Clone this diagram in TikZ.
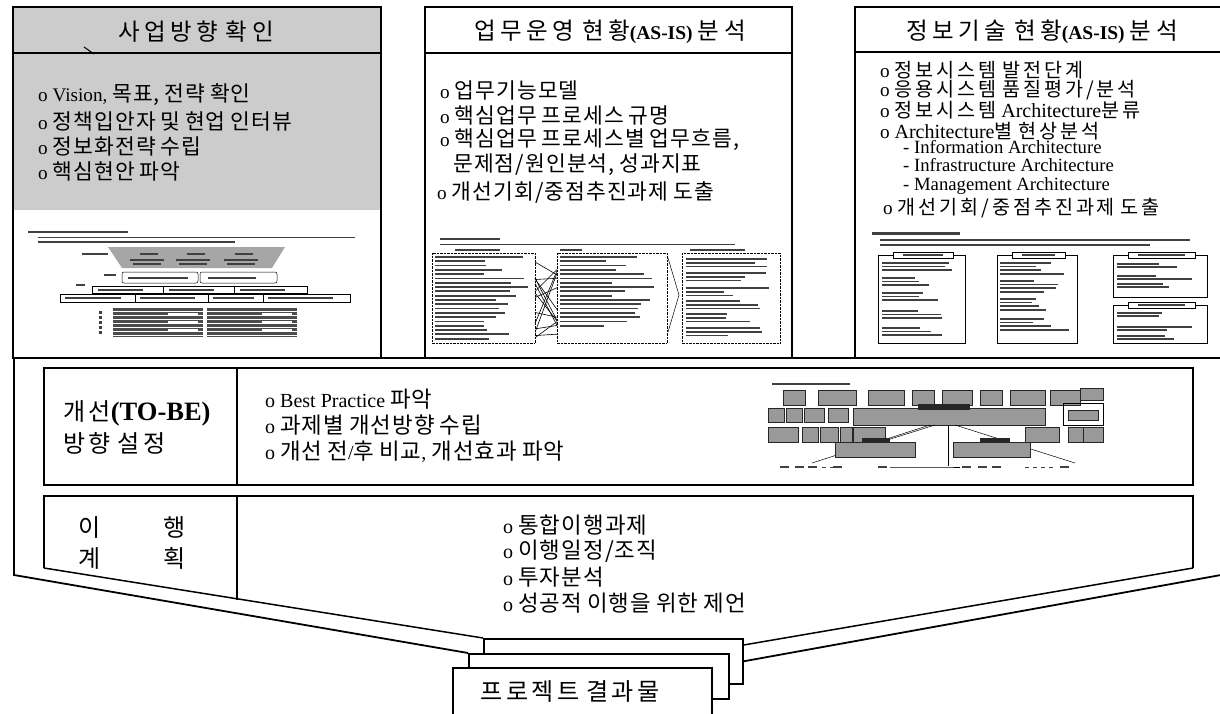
\documentclass[tikz,border=0pt]{standalone}
\usepackage{fontspec}
\setmainfont{Liberation Serif}
\newfontfamily\kr[Scale=1.12,LetterSpace=5,WordSpace=0.8]{Noto Sans CJK KR}
\newcommand\kor[1]{{\kr #1}}
\newcommand\korh[1]{{\kr\addfontfeature{LetterSpace=19}#1}}
\newcommand\korr[1]{{\kr\addfontfeature{LetterSpace=14}#1}}
\newcommand\korc[1]{{\fontsize{17.5}{19}\selectfont\kr\addfontfeature{LetterSpace=15}#1}}
\newcommand\tlines[5]{%
  \foreach \i in {1,...,#4}{%
    \pgfmathsetmacro\ww{#3*(0.45+0.55*rnd)}%
    \fill[tk] (#1,{#2+(\i-1)*#5}) rectangle ++(\ww,1.8);}}
\begin{document}
\begin{tikzpicture}[x=1pt,y=-1pt,
  box/.style={draw, line width=1.5pt},
  frame/.style={draw, line width=1.8pt},
  stk/.style={draw, line width=1.6pt, fill=white, anchor=north west, inner sep=0pt},
  txt/.style={anchor=west, inner sep=0pt, font=\fontsize{19.2}{20}\selectfont},
  sub/.style={anchor=base west, inner sep=0pt, font=\fontsize{18.7}{20}\selectfont},
  low/.style={anchor=west, inner sep=0pt, font=\fontsize{20}{22}\selectfont},
  big/.style={anchor=west, inner sep=0pt, font=\fontsize{21.5}{24}\selectfont},
  hdr/.style={inner sep=0pt, font=\fontsize{21}{26}\selectfont},
  tk/.style={fill=black!75},
  th/.style={draw, line width=0.5pt},
  dot/.style={draw, line width=0.4pt, densely dotted},
  gblk/.style={fill=black!40, draw=black!85, line width=0.4pt}]
\pgfmathsetseed{7}
\useasboundingbox (0,0) rectangle (1220,714);
\clip (0,0) rectangle (1220,714);

% ---------------- top box 1 ----------------
\fill[black!20] (13,7) rectangle (381,210);
\draw[box] (13,7) rectangle (381,358);
\draw[box] (13,53) -- (381,53);
\draw[line width=1pt] (84,47) -- (94,54);
\node[hdr] (h1) at (196,32) {\korh{사업방향 확인}};
\node[txt] (a1) at (38,95) {o Vision, \kor{목표, 전략 확인}};
\node[txt] (a2) at (38,121) {o \kor{정책입안자 및 현업 인터뷰}};
\node[txt] (a3) at (38,146) {o \kor{정보화전략 수립}};
\node[txt] (a4) at (38,171) {o \kor{핵심현안 파악}};
% thumbnail 1
\fill[tk] (28,231) rectangle (128,233.2);
\fill[tk] (38,236.5) rectangle (355,238);
\fill[tk] (38,241) rectangle (235,242.5);
\fill[black!35] (108,247) -- (285,247) -- (272,268) -- (122,268) -- cycle;
\fill[tk] (82,253) rectangle ++(26,2);
\foreach \x in {140,187,235}{\fill[tk] (\x,253) rectangle ++(18,2);}
\foreach \x in {130,176,224}{\fill[tk] (\x,259) rectangle ++(34,2); \fill[tk] (\x+3,263) rectangle ++(28,1.5);}
\fill[tk] (104,274) rectangle ++(12,2);
\draw[th, rounded corners=2pt] (122,272) rectangle (198,283);
\draw[th, rounded corners=2pt] (200,272) rectangle (277,283);
\fill[tk] (128,276.5) rectangle ++(60,2); \fill[tk] (208,276.5) rectangle ++(48,2);
\fill[tk] (76,284) rectangle ++(9,2);
\foreach \a/\b in {92/163,163/234,234/307}{\draw[th] (\a,286) rectangle (\b,293); \fill[tk] (\a+6,288.7) rectangle ++(45,1.8);}
\foreach \a/\b in {60/135,135/208,208/263,263/350}{\draw[th] (\a,294) rectangle (\b,302); \fill[tk] (\a+5,297) rectangle ++({(\b-\a)*0.75},1.8);}
\foreach \y in {311,316,...,334}{\fill[tk] (99,\y) rectangle ++(3,3);}
\foreach \a in {113,207}{
  \fill[black!70] (\a,308) rectangle ++(90,29);
  \foreach \y in {311,315,...,335}{\draw[white, line width=0.6pt] (\a,\y) -- ++(90,0);}
  \foreach \y in {313,321,329}{\fill[white] (\a+55,\y) rectangle ++(30,2.5);}
}

% ---------------- top box 2 ----------------
\draw[box] (425,7) rectangle (792,358);
\draw[box] (425,53) -- (792,53);
\node[hdr] (h2) at (610,32) {\korh{업무운영 현황}{\fontsize{19.5}{22}\selectfont\bfseries(AS-IS)} \korh{분석}};
\node[txt] (b1) at (440,90) {o \kor{업무기능모델}};
\node[txt] (b2) at (440,115) {o \kor{핵심업무 프로세스 규명}};
\node[txt] (b3) at (440,140) {o \kor{핵심업무 프로세스별 업무흐름,}};
\node[txt] (b4) at (453,165) {\kor{문제점/원인분석, 성과지표}};
\node[txt] (b5) at (437,192) {o \kor{개선기회/중점추진과제 도출}};
% thumbnail 2
\fill[tk] (440,237.5) rectangle (500,240);
\fill[tk] (440,243.5) rectangle (735,245);
\fill[tk] (455,248.5) rectangle ++(45,2); \fill[tk] (560,248.5) rectangle ++(22,2); \fill[tk] (690,248.5) rectangle ++(55,2);
\draw[dot] (432,253) rectangle (535,343);
\tlines{435}{256}{95}{20}{4.3}
\foreach \k in {1,...,14}{\pgfmathsetmacro\ya{257+rnd*82}\pgfmathsetmacro\yb{257+rnd*82}\draw[line width=0.6pt] (535,\ya) -- (557,\yb);}
\draw[dot] (557,253) rectangle (667,343);
\tlines{560}{256}{95}{17}{4.3}
\draw[line width=0.5pt] (668,258) -- (679,295) -- (668,332);
\draw[dot] (682,253) rectangle (780,343);
\foreach \y in {258,272,287,300,313,327}{\tlines{686}{\y}{85}{3}{3.8}}

% ---------------- top box 3 ----------------
\draw[box] (855,7) rectangle (1232,358);
\draw[box] (855,52) -- (1232,52);
\node[hdr] (h3) at (1042,32) {\korh{정보기술 현황}{\fontsize{19.5}{22}\selectfont\bfseries(AS-IS)} \korh{분석}};
\node[txt] (c1) at (880,70) {o \korc{정보시스템 발전단계}};
\node[txt] (c2) at (880,90) {o \korc{응용시스템 품질평가/분석}};
\node[txt] (c3) at (880,110) {o \korc{정보시스템} {\fontsize{20}{22}\selectfont Architecture}\korc{분류}};
\node[txt] (c4) at (880,131) {o {\fontsize{20}{22}\selectfont Architecture}\korc{별 현상분석}};
\node[sub] (c5) at (903,154) {- Information Architecture};
\node[sub] (c6) at (903,172) {- Infrastructure Architecture};
\node[sub] (c7) at (903,190) {- Management Architecture};
\node[txt] (c8) at (883,208) {o \korc{개선기회/중점추진과제 도출}};
% thumbnail 3
\fill[tk] (872,232) rectangle (960,234.5);
\fill[tk] (880,239) rectangle (1190,240.5);
\fill[tk] (880,244) rectangle (1150,245.5);
\foreach \a/\b/\t/\u in {878/965/255/343, 997/1077/255/343, 1113/1207/255/297, 1113/1207/305/343}{
  \draw[line width=0.8pt] (\a,\t) rectangle (\b,\u);
  \draw[line width=0.7pt, fill=white] (\a+15,\t-3) rectangle (\b-12,\t+3);
  \fill[tk] (\a+25,\t-0.8) rectangle (\b-22,\t+0.8);
}
\foreach \y in {262,277,292,310,327}{\tlines{882}{\y}{70}{3}{3.6}}
\foreach \y in {262,280,298,318}{\tlines{1000}{\y}{70}{4}{3.6}}
\foreach \y in {263,275,283}{\tlines{1117}{\y}{80}{2}{3.4}}
\foreach \y in {312,326,335}{\tlines{1117}{\y}{80}{2}{3.4}}

% ---------------- lower frame ----------------
\node[stk, minimum width=259pt, minimum height=45pt] (res3) at (483,638) {};
\node[stk, minimum width=260pt, minimum height=45pt] (res2) at (468,653) {};
\node[stk, minimum width=259pt, minimum height=48pt] (res1) at (452,667) {};
\node[big, anchor=center] (rt) at (570,691) {\korr{프로젝트 결과물}};

\coordinate (oL) at (14,575);
\coordinate (oR) at (1232,573);
\coordinate (iL) at (44,568);
\coordinate (iR) at (1193,568);
\draw[frame] (13,358) -- (1232,358);
\draw[frame] (14,358) -- (oL) -- (res2.north west);
\draw[frame] (1232,358) -- (oR) -- (res3.east);
% inner box 1
\draw[box] (44,368) rectangle (1193,485);
\draw[box] (237,368) -- (237,485);
\node[big] (d1) at (63,413) {\korr{개선}{\fontsize{26.5}{28}\selectfont\bfseries(TO-BE)}};
\node[big] (d2) at (63,443) {\korr{방향 설정}};
\node[low] (e1) at (265,399) {o Best Practice \kor{파악}};
\node[low] (e2) at (265,425) {o \kor{과제별 개선방향 수립}};
\node[low] (e3) at (265,452) {o \kor{개선 전}/\kor{후 비교}, \kor{개선효과 파악}};
% thumbnail 4
\fill[tk] (772,383) rectangle (850,385);
\foreach \a/\w in {783/22,818/38,868/36,912/22,942/30,980/22,1010/35,1050/30}{\fill[gblk] (\a,390) rectangle ++(\w,15);}
\fill[gblk] (1080,388) rectangle (1103,400);
\foreach \a/\w in {768/16,786/16,804/20,828/20}{\fill[gblk] (\a,408) rectangle ++(\w,14);}
\fill[gblk] (853,408) rectangle (1045,425);
\fill[black!85] (918,404) rectangle (970,410);
\draw[th] (1063,403) rectangle (1103,425);
\fill[gblk] (1068,410) rectangle (1098,420);
\foreach \a/\w in {768/30,802/16,820/18,840/12,853/32,1025/34,1068/35,1083/20}{\fill[gblk] (\a,427) rectangle ++(\w,15);}
\draw[line width=0.5pt] (935,425) -- (865,447);
\draw[line width=0.5pt] (930,425) -- (812,463);
\draw[line width=0.5pt] (948,425) -- (948,466);
\draw[line width=0.5pt] (955,425) -- (1075,463);
\fill[gblk] (835,442) rectangle (915,457); \fill[black!85] (862,438) rectangle (890,443);
\fill[gblk] (953,442) rectangle (1030,457); \fill[black!85] (980,438) rectangle (1010,443);
\draw[line width=0.5pt] (890,467) -- (948,467) -- (960,467);
\foreach \a in {780,795,808,833,878,962,978,992,1060}{\fill[tk] (\a,466) rectangle ++(9,2);}
\foreach \a in {822,830,838,1025,1033,1041,1049}{\fill[tk] (\a,467) rectangle ++(4,1);}
% inner box 2
\draw[box] (iL) -- (44,496) -- (1193,496) -- (iR);
\draw[box] (iL) -- (res3.north west);
\draw[box] (iR) -- ([yshift=-7pt]res3.north east);
\draw[box] (237,496) -- (237,600);
\node[big] (f1) at (78,527) {\kor{이}};
\node[big] (f2) at (163,527) {\kor{행}};
\node[big] (f3) at (78,558) {\kor{계}};
\node[big] (f4) at (163,558) {\kor{획}};
\node[low] (g1) at (503,525) {o \kor{통합이행과제}};
\node[low] (g2) at (503,551) {o \kor{이행일정/조직}};
\node[low] (g3) at (503,577) {o \kor{투자분석}};
\node[low] (g4) at (503,603) {o \kor{성공적 이행을 위한 제언}};
\end{tikzpicture}
\end{document}
